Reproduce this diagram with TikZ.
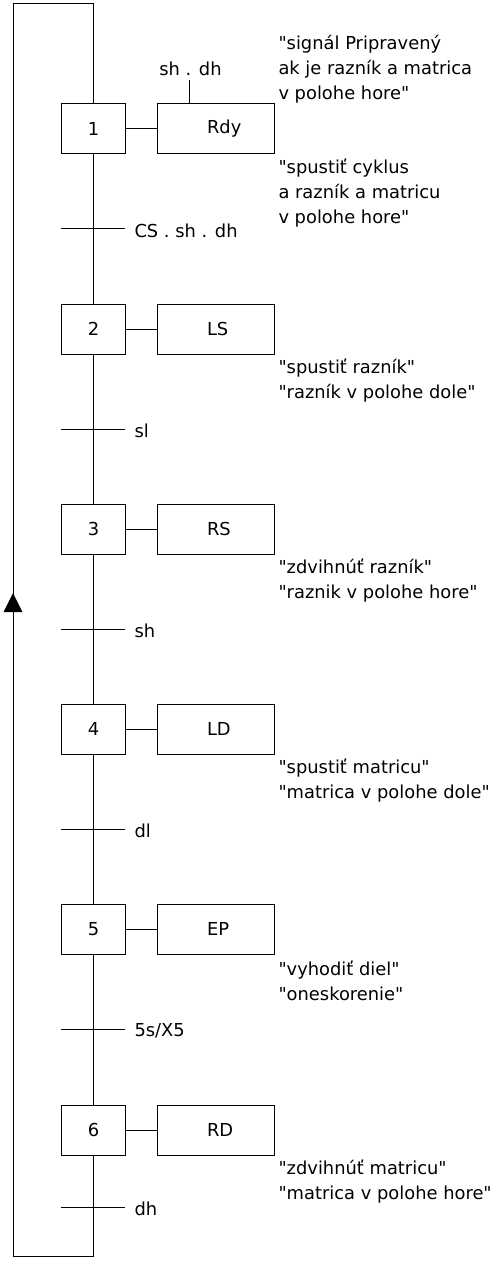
\documentclass[tikz,border=0pt]{standalone}
\usepackage{fontspec}
\setmainfont{DejaVu Sans}
\newcommand{\q}{\textquotedbl}
\begin{document}
\begin{tikzpicture}[x=0.75pt,y=-0.75pt,line width=0.75pt,
  every node/.style={font=\fontsize{13.4}{18.75}\selectfont},
  stepbox/.style={draw,minimum width=48pt,minimum height=37.5pt,inner sep=0pt},
  actbox/.style={draw,minimum width=88.125pt,minimum height=37.5pt,inner sep=0pt,text width=88.125pt,align=left},
  note/.style={anchor=west,inner sep=0pt,align=left},
  tlabel/.style={anchor=west,inner sep=0pt},
  bar/.style={line width=0.75pt}]
\useasboundingbox (0,0) rectangle (502,1266);
% steps
\foreach \i/\a/\y in {1/Rdy/129,2/LS/329,3/RS/529,4/LD/729,5/EP/929,6/RD/1130}{
  \node[stepbox] (s\i) at (93.5,\y) {\i};
  \node[actbox] (a\i) at (215.75,\y) {\hspace*{37.5pt}\a};
  \draw (s\i) -- (a\i);
}
% transitions
\foreach \i/\y/\l in {1/229/{CS . sh . dh},2/429/{sl},3/629/{sh},4/829/{dl},5/1029/{5s/X5},6/1207/{dh}}{
  \coordinate (t\i) at (93.5,\y);
  \draw[bar] (61,\y) -- (125,\y);
  \node[tlabel] (l\i) at (134,\y+2) {\l};
}
\draw (s1) -- (t1) -- (s2) -- (t2) -- (s3) -- (t3) -- (s4) -- (t4) -- (s5) -- (t5) -- (s6) -- (t6);
% loop
\coordinate (bot) at (93.5,1256);
\coordinate (botl) at (13,1256);
\coordinate (topl) at (13,4);
\coordinate (top) at (93.5,4);
\draw (t6) -- (bot) -- (botl) -- (topl) -- (top) -- (s1);
\fill (13,593) -- (22.5,612) -- (3.5,612) -- cycle;
% condition on Rdy
\node[inner sep=0pt] (c1) at (190.5,69) {sh . dh};
\coordinate (c1b) at (189.5,80);
\draw (c1b) -- (189.5,104);
% notes
\node[note] (n1) at (278,69) {\q signál Pripravený\\ak je razník a matrica\\v polohe hore\q};
\node[note] (n1b) at (278,193) {\q spustiť cyklus\\a razník a matricu\\v polohe hore\q};
\node[note] (n2) at (278,380.5) {\q spustiť razník\q\\\q razník v polohe dole\q};
\node[note] (n3) at (278,580.5) {\q zdvihnúť razník\q\\\q raznik v polohe hore\q};
\node[note] (n4) at (278,780.5) {\q spustiť matricu\q\\\q matrica v polohe dole\q};
\node[note] (n5) at (278,980.5) {\q vyhodiť diel\q\\\q oneskorenie\q};
\node[note] (n6) at (278,1182) {\q zdvihnúť matricu\q\\\q matrica v polohe hore\q};
\end{tikzpicture}
\end{document}
